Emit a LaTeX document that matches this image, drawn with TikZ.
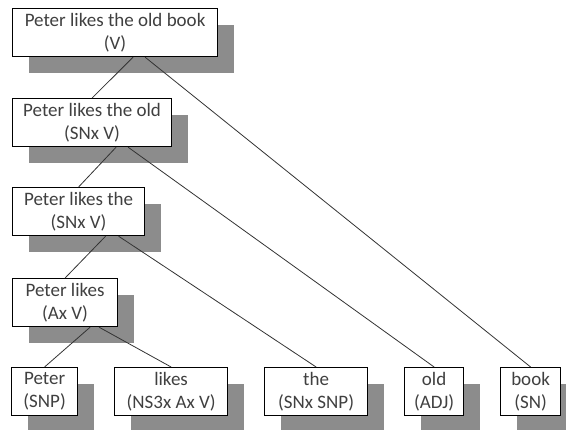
\documentclass[tikz,border=0pt]{standalone}
\usepackage{fontspec}
\setmainfont{Carlito}
\usetikzlibrary{shadows}
\begin{document}
\begin{tikzpicture}[x=1pt, y=-1pt,
      term/.style={rectangle, draw=black, line width=1.2pt, fill=white, anchor=north west, align=center,
        minimum height=48pt, inner sep=0pt, text=black!75, font=\fontsize{19}{23}\selectfont,
        drop shadow={shadow xshift=16pt, shadow yshift=-16pt, fill=black!45, opacity=1}},
      link/.style={draw=black!80, line width=0.8pt}]
      \useasboundingbox (0,0) rectangle (566,430);
      \node[term, minimum width=205pt] (v) at (12,8) {Peter likes the old book\\(V)};
      \node[term, minimum width=159pt] (old) at (12,98) {Peter likes the old\\(SNx V)};
      \node[term, minimum width=132pt] (the) at (12,187) {Peter likes the\\(SNx V)};
      \node[term, minimum width=105pt] (likes) at (12,278) {Peter likes\\(Ax V)};
      \node[term, minimum width=66pt] (wpeter) at (11,367) {Peter\\(SNP)};
      \node[term, minimum width=113pt] (wlikes) at (114,367) {likes\\(NS3x Ax V)};
      \node[term, minimum width=103pt] (wthe) at (264,367) {the\\(SNx SNP)};
      \node[term, minimum width=59pt] (wold) at (404,367) {old\\(ADJ)};
      \node[term, minimum width=60pt] (wbook) at (500,367) {book\\(SN)};
      \draw[link] ([xshift=18pt]v.south) -- (old.north);
      \draw[link] ([xshift=30pt]v.south) -- (wbook.north);
      \draw[link] ([xshift=24pt]old.south) -- (the.north);
      \draw[link] ([xshift=36pt]old.south) -- (wold.north);
      \draw[link] ([xshift=27pt]the.south) -- (likes.north);
      \draw[link] ([xshift=40pt]the.south) -- (wthe.north);
      \draw[link] ([xshift=25pt]likes.south) -- (wpeter.north);
      \draw[link] ([xshift=34pt]likes.south) -- (wlikes.north);
    \end{tikzpicture}
\end{document}
